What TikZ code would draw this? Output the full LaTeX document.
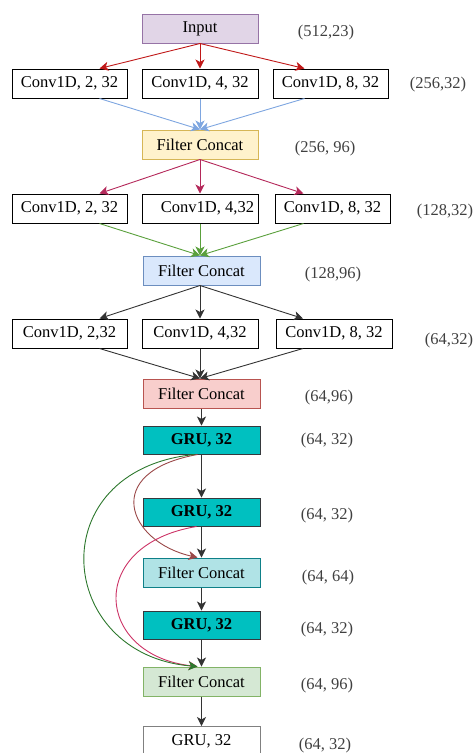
\documentclass[tikz,border=0pt]{standalone}
\usepackage{fontspec}
\setmainfont{Liberation Serif}
\usetikzlibrary{arrows.meta}

\definecolor{inputfill}{HTML}{E1D5E7}
\definecolor{inputline}{HTML}{9673A6}
\definecolor{yellowfill}{HTML}{FFF2CC}
\definecolor{yellowline}{HTML}{D6B656}
\definecolor{bluefill}{HTML}{DAE8FC}
\definecolor{blueline}{HTML}{6C8EBF}
\definecolor{redfill}{HTML}{F8CECC}
\definecolor{redline}{HTML}{B85450}
\definecolor{grufill}{HTML}{00C0C0}
\definecolor{gruline}{HTML}{36393D}
\definecolor{cyanfill}{HTML}{B0E3E6}
\definecolor{cyanline}{HTML}{0E8088}
\definecolor{greenfill}{HTML}{D5E8D4}
\definecolor{greenline}{HTML}{82B366}
\definecolor{labelgray}{HTML}{404040}
\definecolor{arrowred}{HTML}{C01818}
\definecolor{arrowblue}{HTML}{7EA6E0}
\definecolor{arrowcrimson}{HTML}{B4285A}
\definecolor{arrowgreen}{HTML}{5AA03C}
\definecolor{arrowdark}{HTML}{333333}
\definecolor{curvebrown}{HTML}{9A4848}
\definecolor{curvepink}{HTML}{CC3366}
\definecolor{curvegreen}{HTML}{2D782D}

\tikzset{
  block/.style={draw, minimum width=116pt, minimum height=29pt, inner sep=0pt,
    line width=1pt, font=\fontsize{16.5}{18}\selectfont},
  convbox/.style={block, fill=white, draw=black},
  grubox/.style={block, fill=grufill, draw=gruline, minimum height=28pt,
    font=\fontsize{16.5}{18}\selectfont\bfseries},
  shapelabel/.style={text=labelgray, font=\fontsize{16.5}{18}\selectfont},
  link/.style={-{Stealth[length=9pt,width=9pt,inset=2.5pt]}, line width=0.9pt},
}

\begin{document}
\begin{tikzpicture}[x=1pt,y=-1pt]
\clip (0,0) rectangle (475,753);

% input and first conv row
\node[block, fill=inputfill, draw=inputline] (input) at (200,28.5) {Input};
\node[convbox, minimum width=115pt] (c11) at (69.5,83.5) {Conv1D, 2, 32};
\node[convbox] (c12) at (200,83.5) {Conv1D, 4, 32};
\node[convbox, minimum width=115pt] (c13) at (330.5,83.5) {Conv1D, 8, 32};
\node[block, fill=yellowfill, draw=yellowline] (fc1) at (200,144.5) {Filter Concat};

\draw[link, arrowred] (input.south) -- ([xshift=30pt]c11.north);
\draw[link, arrowred] (input.south) -- (c12.north);
\draw[link, arrowred] (input.south) -- ([xshift=-26pt]c13.north);
\draw[link, arrowblue] ([xshift=30pt]c11.south) -- (fc1.north);
\draw[link, arrowblue] (c12.south) -- (fc1.north);
\draw[link, arrowblue] ([xshift=-26pt]c13.south) -- (fc1.north);

% second conv row
\node[convbox, minimum width=115pt] (c21) at (69.5,208.5) {Conv1D, 2, 32};
\node[convbox] (c22) at (200,208.5) {\hspace*{15pt}Conv1D, 4,32};
\node[convbox, minimum width=115pt] (c23) at (332.5,208.5) {Conv1D, 8, 32};
\node[block, fill=bluefill, draw=blueline, minimum width=117pt] (fc2) at (201.5,270.5) {Filter Concat};

\draw[link, arrowcrimson] (fc1.south) -- ([xshift=30pt]c21.north);
\draw[link, arrowcrimson] (fc1.south) -- (c22.north);
\draw[link, arrowcrimson] (fc1.south) -- ([xshift=-29pt]c23.north);
\draw[link, arrowgreen] ([xshift=30pt]c21.south) -- ([xshift=-1.5pt]fc2.north);
\draw[link, arrowgreen] (c22.south) -- ([xshift=-1.5pt]fc2.north);
\draw[link, arrowgreen] ([xshift=-29pt]c23.south) -- ([xshift=-1.5pt]fc2.north);

% third conv row
\node[convbox, minimum width=115pt] (c31) at (69.5,333.5) {Conv1D, 2,32};
\node[convbox] (c32) at (200,333.5) {Conv1D, 4,32};
\node[convbox] (c33) at (334,333.5) {Conv1D, 8, 32};
\node[block, fill=redfill, draw=redline, minimum width=117pt] (fc3) at (201.5,393.5) {Filter Concat};

\draw[link, arrowdark] ([xshift=-1.5pt]fc2.south) -- ([xshift=30pt]c31.north);
\draw[link, arrowdark] ([xshift=-1.5pt]fc2.south) -- (c32.north);
\draw[link, arrowdark] ([xshift=-1.5pt]fc2.south) -- ([xshift=-31pt]c33.north);
\draw[link, arrowdark] ([xshift=30pt]c31.south) -- ([xshift=-1.5pt]fc3.north);
\draw[link, arrowdark] (c32.south) -- ([xshift=-1.5pt]fc3.north);
\draw[link, arrowdark] ([xshift=-31pt]c33.south) -- ([xshift=-1.5pt]fc3.north);

% recurrent part
\node[grubox, minimum width=117pt] (gru1) at (201.5,440) {GRU, 32};
\node[grubox, minimum width=117pt] (gru2) at (201.5,512) {GRU, 32};
\node[block, fill=cyanfill, draw=cyanline, minimum width=117pt] (fc4) at (201.5,572.5) {Filter Concat};
\node[grubox, minimum width=117pt] (gru3) at (201.5,625) {GRU, 32};
\node[block, fill=greenfill, draw=greenline, minimum width=117pt] (fc5) at (201.5,681.5) {Filter Concat};
\node[block, fill=white, draw=gray, minimum width=117pt] (gru4) at (201.5,741) {GRU, 32};

\draw[link, arrowdark] (fc3.south) -- (gru1.north);
\draw[link, arrowdark] (gru1.south) -- (gru2.north);
\draw[link, arrowdark] (gru2.south) -- (fc4.north);
\draw[link, arrowdark] (fc4.south) -- (gru3.north);
\draw[link, arrowdark] (gru3.south) -- (fc5.north);
\draw[link, arrowdark] (fc5.south) -- (gru4.north);

% skip connections
\draw[link, curvebrown] ([xshift=-4pt]gru1.south) .. controls (100,472) and (128,542) .. ([xshift=-4pt]fc4.north);
\draw[link, curvepink] ([xshift=-5pt]gru2.south) .. controls (85,545) and (95,655) .. ([xshift=-4pt]fc5.north);
\draw[link, curvegreen] ([xshift=-7pt]gru1.south) .. controls (40,470) and (55,655) .. ([xshift=-4pt]fc5.north);

% output shapes
\node[shapelabel] (s0) at (326,33) {(512,23)};
\node[shapelabel] (s1) at (438,85) {(256,32)};
\node[shapelabel] (s2) at (325,149) {(256, 96)};
\node[shapelabel] (s3) at (445,212) {(128,32)};
\node[shapelabel] (s4) at (333,275) {(128,96)};
\node[shapelabel] (s5) at (449,341) {(64,32)};
\node[shapelabel] (s6) at (329,398) {(64,96)};
\node[shapelabel] (s7) at (327,441) {(64, 32)};
\node[shapelabel] (s8) at (327,516) {(64, 32)};
\node[shapelabel] (s9) at (328,578) {(64, 64)};
\node[shapelabel] (s10) at (327,630) {(64, 32)};
\node[shapelabel] (s11) at (327,686) {(64, 96)};
\node[shapelabel] (s12) at (325,746) {(64, 32)};
\end{tikzpicture}
\end{document}
